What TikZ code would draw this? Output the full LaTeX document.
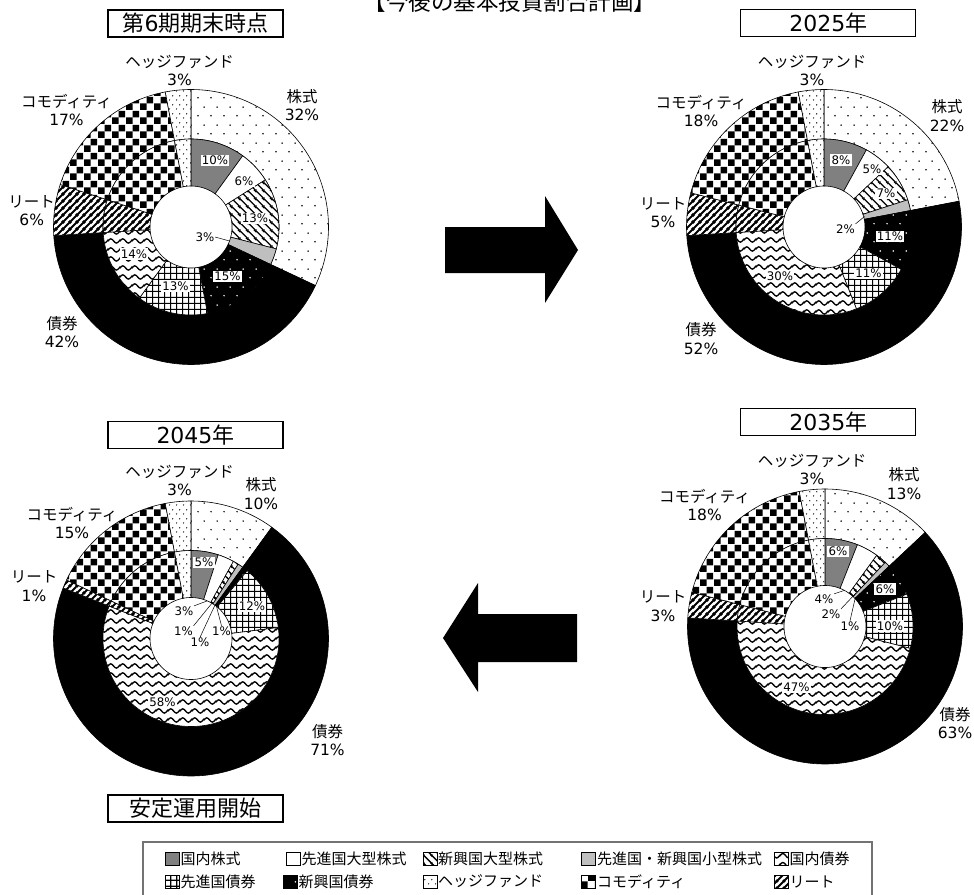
\documentclass[tikz,border=0pt]{standalone}
\usepackage{fontspec}
\setmainfont{DejaVu Sans}
\newfontfamily\jp{Noto Sans CJK JP}
\usetikzlibrary{patterns.meta}

\tikzdeclarepattern{name=sdots,type=uncolored,
  bounding box={(0pt,0pt) and (13pt,18pt)},tile size={(13pt,18pt)},
  code={\fill (3.25pt,4.5pt) circle[radius=0.9pt]; \fill (9.75pt,13.5pt) circle[radius=0.9pt];}}
\tikzdeclarepattern{name=ddots,type=uncolored,
  bounding box={(0pt,0pt) and (7pt,9pt)},tile size={(7pt,9pt)},
  code={\fill (1.75pt,2.25pt) circle[radius=0.75pt]; \fill (5.25pt,6.75pt) circle[radius=0.75pt];}}
\tikzdeclarepattern{name=chk,type=uncolored,
  bounding box={(0pt,0pt) and (14pt,14pt)},tile size={(14pt,14pt)},
  code={\fill (0pt,0pt) rectangle (7pt,7pt); \fill (7pt,7pt) rectangle (14pt,14pt);}}
\tikzdeclarepattern{name=grd,type=uncolored,
  bounding box={(0pt,0pt) and (6pt,6pt)},tile size={(6pt,6pt)},
  code={\draw[line width=1.3pt] (-1pt,3pt) -- (7pt,3pt); \draw[line width=1.3pt] (3pt,-1pt) -- (3pt,7pt);}}
\tikzdeclarepattern{name=nel,type=uncolored,
  bounding box={(0pt,0pt) and (7pt,7pt)},tile size={(7pt,7pt)},
  code={\draw[line width=2.1pt] (-1pt,-1pt) -- (8pt,8pt); \draw[line width=2.1pt] (-2pt,5pt) -- (2pt,9pt); \draw[line width=2.1pt] (5pt,-2pt) -- (9pt,2pt);}}
\tikzdeclarepattern{name=nwl,type=uncolored,
  bounding box={(0pt,0pt) and (8pt,8pt)},tile size={(8pt,8pt)},
  code={\draw[line width=1.5pt] (-1pt,9pt) -- (9pt,-1pt); \draw[line width=1.5pt] (-2pt,2pt) -- (2pt,-2pt); \draw[line width=1.5pt] (6pt,10pt) -- (10pt,6pt);}}
\tikzdeclarepattern{name=wav,type=uncolored,
  bounding box={(0pt,0pt) and (12pt,8.5pt)},tile size={(12pt,8.5pt)},
  code={\draw[line width=1.4pt] (-3pt,2pt) cos (0pt,4.25pt) sin (3pt,6.5pt) cos (6pt,4.25pt) sin (9pt,2pt) cos (12pt,4.25pt) sin (15pt,6.5pt);}}

\tikzset{
  seg/.style={draw=black,line width=0.6pt},
  pJS/.style={seg,fill=black!50},
  pDL/.style={seg,fill=white},
  pEL/.style={seg,preaction={fill=white},pattern=nwl},
  pSM/.style={seg,fill=black!25},
  pEB/.style={seg,preaction={fill=black},pattern=sdots,pattern color=white},
  pDB/.style={seg,preaction={fill=white},pattern=grd},
  pJB/.style={seg,preaction={fill=white},pattern=wav},
  pRT/.style={seg,preaction={fill=white},pattern=nel},
  pCM/.style={seg,preaction={fill=white},pattern=chk},
  pHF/.style={seg,preaction={fill=white},pattern=ddots},
  pEQ/.style={seg,preaction={fill=white},pattern=sdots},
  pBO/.style={seg,fill=black},
  ilab/.style={fill=white,inner sep=1.2pt,font=\fontsize{11.8}{13}\selectfont},
  ilabn/.style={inner sep=0.5pt,font=\fontsize{11.8}{13}\selectfont},
  olab/.style={inner sep=0pt,font=\fontsize{15.5}{18}\selectfont},
  tbox/.style={draw=black,line width=1.2pt,fill=white,minimum width=175pt,minimum height=27pt,inner sep=0pt,font=\fontsize{22}{26}\selectfont},
  swatch/.style={minimum width=14pt,minimum height=13pt,inner sep=0pt},
  ltxt/.style={anchor=west,inner sep=0pt,font=\jp\fontsize{15}{18}\selectfont},
  leader/.style={draw=black,line width=0.5pt},
  bigarrow/.style={fill=black}
}

\newcommand\donut[5]{%
  \gdef\dcum{0}%
  \foreach \p/\s in {#5}{%
    \pgfmathsetmacro\da{3.6*\dcum}%
    \pgfmathsetmacro\db{3.6*(\dcum+\p)}%
    \pgfmathtruncatemacro\dn{3.6*\p/1.5+2}%
    \edef\dopath{\noexpand\path[\s]}%
    \dopath plot[domain=\da:\db,samples=\dn] ({#1+#4*sin(\x)},{#2-#4*cos(\x)}) -- plot[domain=\db:\da,samples=\dn] ({#1+#3*sin(\x)},{#2-#3*cos(\x)}) -- cycle;%
    \pgfmathsetmacro\dt{\dcum+\p}%
    \xdef\dcum{\dt}%
  }%
}
% two-line outer label: name, x, ymid, text1, text2
\newcommand\olabel[5]{%
  \node[olab] (#1n) at (#2,#3-9.25) {\jp #4};
  \node[olab] (#1p) at (#2,#3+9.25) {#5};
}

\begin{document}
\begin{tikzpicture}[x=1pt,y=-1pt]
\useasboundingbox (0,0) rectangle (974,894);
\fill[white] (0,0) rectangle (974,894);

% header (cut at top, as in the reference)
\node[anchor=base,inner sep=0pt,font=\jp\fontsize{22.5}{27}\selectfont] (hdr) at (510,10) {【今後の基本投資割合計画】};

% ---------- chart 1 ----------
\donut{191}{227}{88}{137.5}{32/pEQ,42/pBO,6/pRT,17/pCM,3/pHF}
\donut{191}{227}{41}{88}{10/pJS,6/pDL,13/pEL,3/pSM,15/pEB,13/pDB,14/pJB,6/pRT,17/pCM,3/pHF}
% ---------- chart 2 ----------
\donut{824}{227}{88}{137.5}{22/pEQ,52/pBO,5/pRT,18/pCM,3/pHF}
\donut{824}{227}{41}{88}{8/pJS,5/pDL,7/pEL,2/pSM,11/pEB,11/pDB,30/pJB,5/pRT,18/pCM,3/pHF}
% ---------- chart 3 ----------
\donut{825}{626.5}{88}{137.5}{13/pEQ,63/pBO,3/pRT,18/pCM,3/pHF}
\donut{825}{626.5}{41}{88}{6/pJS,4/pDL,2/pEL,1/pSM,6/pEB,10/pDB,47/pJB,3/pRT,18/pCM,3/pHF}
% ---------- chart 4 ----------
\donut{191}{638.5}{88}{137.5}{10/pEQ,71/pBO,1/pRT,15/pCM,3/pHF}
\donut{191}{638.5}{41}{88}{5/pJS,3/pDL,1/pEL,1/pSM,1/pEB,12/pDB,58/pJB,1/pRT,15/pCM,3/pHF}

% titles
\node[tbox] (t1) at (195.5,23.5) {{\jp 第}6{\jp 期期末時点}};
\node[tbox] (t2) at (828.3,22.7) {2025{\jp 年}};
\node[tbox] (t3) at (828.3,422) {2035{\jp 年}};
\node[tbox] (t4) at (195.5,435) {2045{\jp 年}};
\node[tbox] (t5) at (195.5,808.5) {\jp 安定運用開始};

% outer labels chart 1
\olabel{a1}{179.5}{70.75}{ヘッジファンド}{3\%}
\olabel{a2}{302}{106}{株式}{32\%}
\olabel{a3}{66.5}{111}{コモディティ}{17\%}
\olabel{a4}{31.75}{210.75}{リート}{6\%}
\olabel{a5}{62}{333}{債券}{42\%}
% outer labels chart 2
\olabel{b1}{812}{70.75}{ヘッジファンド}{3\%}
\olabel{b2}{947}{116.25}{株式}{22\%}
\olabel{b3}{701}{111.75}{コモディティ}{18\%}
\olabel{b4}{663}{213}{リート}{5\%}
\olabel{b5}{701}{339.25}{債券}{52\%}
% outer labels chart 3
\olabel{c1}{812}{470}{ヘッジファンド}{3\%}
\olabel{c2}{904}{484.25}{株式}{13\%}
\olabel{c3}{704.5}{506}{コモディティ}{18\%}
\olabel{c4}{663}{606.5}{リート}{3\%}
\olabel{c5}{955}{724}{債券}{63\%}
% outer labels chart 4
\olabel{d1}{179.5}{480.75}{ヘッジファンド}{3\%}
\olabel{d2}{261}{494.25}{株式}{10\%}
\olabel{d3}{72}{524}{コモディティ}{15\%}
\olabel{d4}{34}{586.5}{リート}{1\%}
\olabel{d5}{327.5}{740.75}{債券}{71\%}

% inner labels chart 1
\node[ilab] (a1i) at (215,160.5) {10\%};
\node[ilab] (a2i) at (244,181.5) {6\%};
\node[ilab] (a3i) at (255,218.5) {13\%};
\node[ilabn] (a4i) at (205,237) {3\%};
\coordinate (a4e) at (229.5,241);
\draw[leader] (a4i.east) -- (a4e);
\node[ilab] (a5i) at (227.5,276.5) {15\%};
\node[ilab] (a6i) at (175.5,286) {13\%};
\node[ilab] (a7i) at (134,254) {14\%};
% inner labels chart 2
\node[ilab] (b1i) at (841,160) {8\%};
\node[ilab] (b2i) at (872,169) {5\%};
\node[ilab] (b3i) at (886,193.5) {7\%};
\node[ilabn] (b4i) at (845.5,229) {2\%};
\coordinate (b4e) at (864.5,216.5);
\draw[leader] (b4i.north east) -- (b4e);
\node[ilab] (b5i) at (890,236.5) {11\%};
\node[ilab] (b6i) at (868.5,273.5) {11\%};
\node[ilab] (b7i) at (780,276) {30\%};
% inner labels chart 3
\node[ilab] (c1i) at (838,551.5) {6\%};
\node[ilabn] (c2i) at (824,599) {4\%};
\coordinate (c2e) at (844,590.5);
\draw[leader] (c2i.north east) -- (c2e);
\node[ilabn] (c3i) at (831,614) {2\%};
\coordinate (c3e) at (856,593);
\draw[leader] (c3i.north east) -- (c3e);
\node[ilabn] (c4i) at (850,626) {1\%};
\coordinate (c4e) at (855,599);
\draw[leader] (c4i.north) -- (c4e);
\node[ilab] (c5i) at (885,589) {6\%};
\node[ilab] (c6i) at (890,626) {10\%};
\node[ilab] (c7i) at (796.5,687.5) {47\%};
% inner labels chart 4
\node[ilab] (d1i) at (204,562.5) {5\%};
\node[ilabn] (d2i) at (184,611) {3\%};
\coordinate (d2e) at (207,601);
\draw[leader] (d2i.north east) -- (d2e);
\node[ilabn] (d3i) at (183.5,631) {1\%};
\coordinate (d3e) at (212.5,602.5);
\draw[leader] (d3i.north east) -- (d3e);
\node[ilabn] (d4i) at (200,642.5) {1\%};
\coordinate (d4e) at (215,605);
\draw[leader] (d4i.north) -- (d4e);
\node[ilabn] (d5i) at (221.5,631) {1\%};
\coordinate (d5e) at (216.5,606.5);
\draw[leader] (d5i.north) -- (d5e);
\node[ilab] (d6i) at (252,606.5) {12\%};
\node[ilab] (d7i) at (162.5,702.5) {58\%};

% arrows
\fill[bigarrow] (445,227) -- (545,227) -- (545,196) -- (578,250) -- (545,303) -- (545,273) -- (445,273) -- cycle;
\fill[bigarrow] (577,614) -- (478,614) -- (478,583) -- (443,638) -- (478,692) -- (478,662) -- (577,662) -- cycle;

% legend
\draw[draw=black!55,line width=1.2pt] (143,842) rectangle (872,900);
\node[swatch,pJS] (k1) at (172,858.5) {};   \node[ltxt] (k1t) at (180.5,858.5) {国内株式};
\node[swatch,pDL] (k2) at (293.5,858.5) {}; \node[ltxt] (k2t) at (301.5,858.5) {先進国大型株式};
\node[swatch,pEL] (k3) at (430,858.5) {};   \node[ltxt] (k3t) at (438,858.5) {新興国大型株式};
\node[swatch,pSM] (k4) at (588.5,858.5) {}; \node[ltxt] (k4t) at (597,858.5) {先進国・新興国小型株式};
\node[swatch,pJB] (k5) at (781.5,858.5) {}; \node[ltxt] (k5t) at (789.5,858.5) {国内債券};
\node[swatch,pDB] (k6) at (172,881.5) {};   \node[ltxt] (k6t) at (180.5,881.5) {先進国債券};
\node[swatch,pEB] (k7) at (290,881.5) {};   \node[ltxt] (k7t) at (298.5,881.5) {新興国債券};
\node[swatch,pHF] (k8) at (430,881.5) {};   \node[ltxt] (k8t) at (438,881.5) {ヘッジファンド};
\node[swatch,pCM] (k9) at (588.5,881.5) {}; \node[ltxt] (k9t) at (597,881.5) {コモディティ};
\node[swatch,pRT] (k10) at (781.5,881.5) {}; \node[ltxt] (k10t) at (789.5,881.5) {リート};
\end{tikzpicture}
\end{document}
